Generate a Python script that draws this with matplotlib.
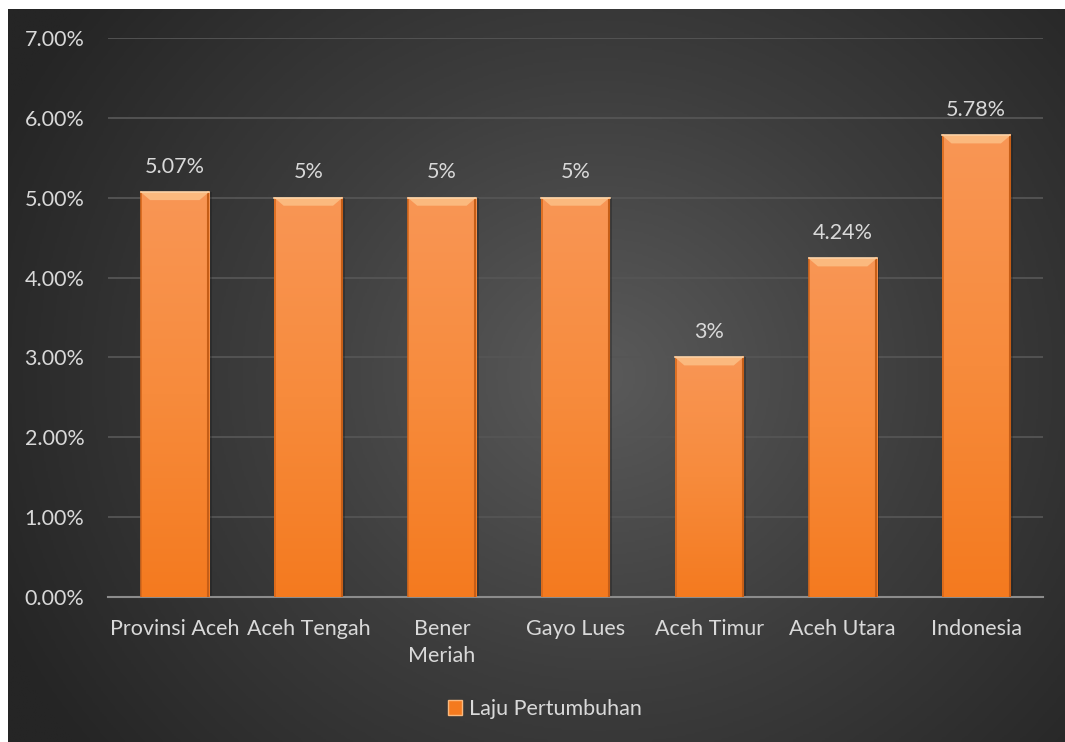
import numpy as np
import matplotlib
matplotlib.use('Agg')
import matplotlib.pyplot as plt
from matplotlib.patches import Patch, Polygon
from matplotlib.colors import LinearSegmentedColormap
from matplotlib.ticker import FuncFormatter, MultipleLocator

categories = ['Provinsi Aceh', 'Aceh Tengah', 'Bener\nMeriah', 'Gayo Lues',
              'Aceh Timur', 'Aceh Utara', 'Indonesia']
values = [5.07, 5.00, 5.00, 5.00, 3.00, 4.24, 5.78]
value_labels = ['5.07%', '5%', '5%', '5%', '3%', '4.24%', '5.78%']
series_name = 'Laju Pertumbuhan'

W, H = 1065, 742
TEXT = '#d9d9d9'
FS = 15.5
plt.rcParams['font.family'] = ['Lato', 'DejaVu Sans']

fig = plt.figure(figsize=(W / 100, H / 100), dpi=100)
fig.patch.set_facecolor('white')

# chart area with radial gradient background
bg = fig.add_axes([8 / W, 0, 1 - 8 / W, 1 - 9 / H])
bg.set_axis_off()
yy, xx = np.mgrid[0:1:400j, 0:1:600j]
r = np.sqrt(((xx - 0.56) * 1.2) ** 2 + ((yy - 0.5) * 0.9) ** 2)
bg_cmap = LinearSegmentedColormap.from_list('bg', ['#5a5a5a', '#3d3d3d', '#252525'])
bg.imshow(r, cmap=bg_cmap, aspect='auto', extent=[0, 1, 0, 1],
          vmin=0, vmax=0.75, interpolation='bilinear')

ax = fig.add_axes([108 / W, (H - 597) / H, (1043 - 108) / W, (597 - 38) / H])
ax.patch.set_alpha(0)
x = np.arange(len(categories))
bw = 0.51

ax.set_xlim(-0.5, len(categories) - 0.5)
ax.set_ylim(0, 7)
ax.yaxis.set_major_locator(MultipleLocator(1))
ax.yaxis.set_major_formatter(FuncFormatter(lambda v, p: f'{v:.2f}%'))
ax.grid(axis='y', color='#555555', linewidth=1.3, zorder=0)
ax.set_axisbelow(True)
for s in ['top', 'right', 'left']:
    ax.spines[s].set_visible(False)
ax.spines['bottom'].set_color('#8c8c8c')
ax.spines['bottom'].set_linewidth(1.5)
ax.tick_params(axis='both', length=0, colors=TEXT, labelsize=FS)
ax.tick_params(axis='y', pad=17)
ax.tick_params(axis='x', pad=16)
ax.set_xticks(x)
ax.set_xticklabels(categories, linespacing=1.45)

bar_cmap = LinearSegmentedColormap.from_list('bar', ['#f47a1f', '#f78b3c', '#f99655'])
grad = np.linspace(0, 1, 256).reshape(-1, 1)
bars = ax.bar(x, values, width=bw, color='#f68a3c', edgecolor='none', zorder=3)
for rect, v, lab in zip(bars, values, value_labels):
    x0 = rect.get_x()
    x1 = x0 + rect.get_width()
    # soft shadow
    ax.bar(rect.get_x() + rect.get_width() / 2 + 0.02, v, width=bw, color='#1a1a1a',
           alpha=0.35, zorder=2)
    im = ax.imshow(grad, cmap=bar_cmap, aspect='auto', extent=[x0, x1, 0, v],
                   origin='lower', zorder=4)
    im.set_clip_path(rect)
    # side edges
    ax.plot([x0 + 0.004, x0 + 0.004], [0, v], color='#d8691c', lw=1.2, zorder=5)
    ax.plot([x1 - 0.004, x1 - 0.004], [0, v], color='#c65e17', lw=1.5, zorder=5)
    # top bevel
    bh = 0.1
    inset = 0.07
    top = Polygon([[x0, v], [x1, v], [x1 - inset, v - bh], [x0 + inset, v - bh]],
                  closed=True, facecolor='#fbb97e', edgecolor='none', zorder=5)
    ax.add_patch(top)
    ax.plot([x0, x1], [v, v], color='#fdd4a8', lw=1.2, zorder=6)
    ax.annotate(lab, (rect.get_x() + rect.get_width() / 2, v), xytext=(0, 11),
                textcoords='offset points', ha='center', va='bottom',
                color=TEXT, fontsize=FS, zorder=7)

handle = Patch(facecolor='#f47a1f', edgecolor='#fbb97e', linewidth=1)
leg = fig.legend([handle], [series_name], loc='center', bbox_to_anchor=(545 / W, 1 - 709 / H),
                 frameon=False, fontsize=FS, handlelength=0.65, handleheight=0.65,
                 handletextpad=0.3, labelcolor=TEXT)

fig.savefig('out.png', dpi=100, facecolor=fig.get_facecolor())
